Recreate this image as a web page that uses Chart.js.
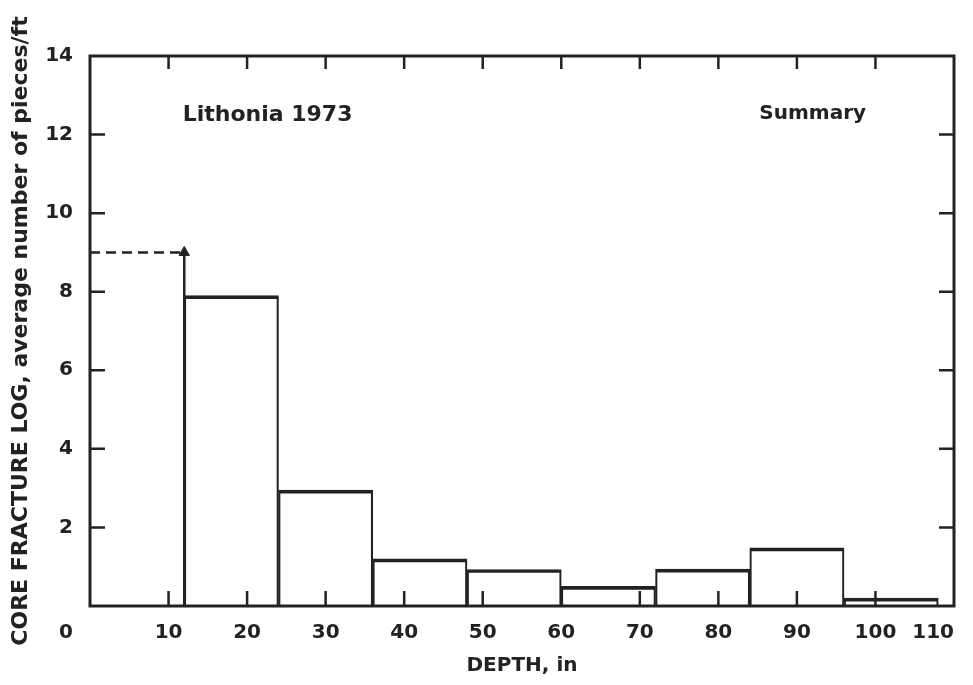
<!DOCTYPE html>
<html lang="en">
<head>
<meta charset="UTF-8" />
<title>Core Fracture Log</title>
<script src="https://cdn.jsdelivr.net/npm/chart.js"></script>
<style>
  body { margin: 0; background: #fff; }
  .chart-box { width: 973px; height: 685px; position: relative; }
</style>
</head>
<body>
<div class="chart-box">
  <canvas id="fractureChart"></canvas>
</div>

<script>
// depth bins are 12 in wide, centred on these depths
const binCenters = [18, 30, 42, 54, 66, 78, 90, 102];
const avgPieces = [7.9, 2.95, 1.2, 0.93, 0.5, 0.94, 1.48, 0.2];

// off-scale first bin shown as dashed level + arrow
const guideDepth = [0, 12];
const guideLevel = [9, 9];
const arrowDepth = [12, 12];
const arrowLevel = [0, 9];

const xTicks = [0, 10, 20, 30, 40, 50, 60, 70, 80, 90, 100, 110];
const yTicks = [0, 2, 4, 6, 8, 10, 12, 14];

const ink = '#222';
const fontFam = 'DejaVu Sans';
const tickFont = { family: fontFam, size: 20, weight: 'bold' };

const pts = (xs, ys) => xs.map((x, i) => ({ x: x, y: ys[i] }));

// frame, inward ticks on all four sides, corner "0" and the two text labels
const framePlugin = {
  id: 'frame',
  afterDatasetsDraw(chart) {
    const { ctx, chartArea: a, scales } = chart;
    const x = scales.x, y = scales.y;
    ctx.save();
    ctx.strokeStyle = ink;
    ctx.lineWidth = 3;
    ctx.strokeRect(a.left, a.top, a.right - a.left, a.bottom - a.top);

    ctx.lineWidth = 2.5;
    ctx.beginPath();
    xTicks.slice(1, -1).forEach(v => {
      const px = x.getPixelForValue(v);
      ctx.moveTo(px, a.bottom); ctx.lineTo(px, a.bottom - 15);
      ctx.moveTo(px, a.top); ctx.lineTo(px, a.top + 13);
    });
    yTicks.slice(1, -1).forEach(v => {
      const py = y.getPixelForValue(v);
      ctx.moveTo(a.left, py); ctx.lineTo(a.left + 15, py);
      ctx.moveTo(a.right, py); ctx.lineTo(a.right - 15, py);
    });
    ctx.stroke();

    ctx.fillStyle = ink;
    // shared origin label sits in the y-label column, on the x-label row
    ctx.font = 'bold 20px "' + fontFam + '"';
    ctx.textAlign = 'right';
    ctx.textBaseline = 'middle';
    ctx.fillText('0', a.left - 17, a.bottom + 27);

    ctx.textBaseline = 'alphabetic';
    ctx.font = 'bold 22px "' + fontFam + '"';
    ctx.textAlign = 'left';
    ctx.fillText('Lithonia 1973', x.getPixelForValue(11.8), y.getPixelForValue(12.35));
    ctx.font = 'bold 20px "' + fontFam + '"';
    ctx.textAlign = 'right';
    ctx.fillText('Summary', x.getPixelForValue(98.8), y.getPixelForValue(12.4));
    ctx.restore();
  }
};

new Chart(document.getElementById('fractureChart'), {
  type: 'bar',
  data: {
    datasets: [
      {
        type: 'bar',
        label: 'pieces/ft',
        data: pts(binCenters, avgPieces),
        xAxisID: 'xb',
        yAxisID: 'y',
        grouped: false,
        backgroundColor: 'rgba(255,255,255,0)',
        borderColor: ink,
        borderWidth: { top: 3, left: 1.5, right: 1.5, bottom: 0 },
        borderSkipped: false,
        barPercentage: 1,
        categoryPercentage: 1
      },
      {
        type: 'line',
        label: 'guide',
        data: pts(guideDepth, guideLevel),
        xAxisID: 'xb',
        yAxisID: 'y',
        borderColor: ink,
        borderWidth: 2.5,
        borderDash: [10, 6],
        pointRadius: 0
      },
      {
        type: 'line',
        label: 'arrow',
        data: pts(arrowDepth, arrowLevel),
        xAxisID: 'xb',
        yAxisID: 'y',
        borderColor: ink,
        borderWidth: 2.5,
        pointStyle: 'triangle',
        pointRadius: [0, 6],
        pointBackgroundColor: ink,
        pointBorderColor: ink,
        pointBorderWidth: 1
      }
    ]
  },
  options: {
    responsive: true,
    maintainAspectRatio: false,
    animation: false,
    layout: { padding: { top: 56, right: 19, left: 0, bottom: 0 } },
    plugins: {
      legend: { display: false },
      tooltip: { enabled: false }
    },
    scales: {
      x: {
        type: 'linear',
        position: 'bottom',
        min: 0,
        max: 110,
        offset: false,
        afterBuildTicks: s => { s.ticks = xTicks.map(v => ({ value: v })); },
        afterFit: s => { s.height = 79; s.paddingLeft = 0; s.paddingRight = 0; },
        grid: { drawOnChartArea: false, drawTicks: false, offset: false },
        border: { display: false },
        ticks: {
          color: ink,
          padding: 15,
          align: 'inner',
          maxRotation: 0,
          autoSkip: false,
          font: tickFont,
          callback: v => (v === 0 ? '' : v)
        },
        title: {
          display: true,
          text: 'DEPTH, in',
          color: ink,
          padding: { top: 0, bottom: 7 },
          font: { family: fontFam, size: 20, weight: 'bold' }
        }
      },
      // hidden axis whose ticks sit on the bin centres, so bars come out 12 in wide
      xb: {
        type: 'linear',
        display: false,
        min: 0,
        max: 110,
        offset: false,
        grid: { offset: false },
        afterBuildTicks: s => { s.ticks = binCenters.map(v => ({ value: v })); }
      },
      y: {
        type: 'linear',
        min: 0,
        max: 14,
        afterBuildTicks: s => { s.ticks = yTicks.map(v => ({ value: v })); },
        afterFit: s => { s.width = 90; },
        grid: { drawOnChartArea: false, drawTicks: false },
        border: { display: false },
        ticks: {
          color: ink,
          padding: 17,
          font: tickFont,
          callback: v => (v === 0 ? '' : v)
        },
        title: {
          display: true,
          text: 'CORE FRACTURE LOG, average number of pieces/ft',
          color: ink,
          padding: { top: 8, bottom: 0 },
          font: { family: fontFam, size: 22, weight: 'bold' }
        }
      }
    }
  },
  plugins: [framePlugin]
});
</script>
</body>
</html>
